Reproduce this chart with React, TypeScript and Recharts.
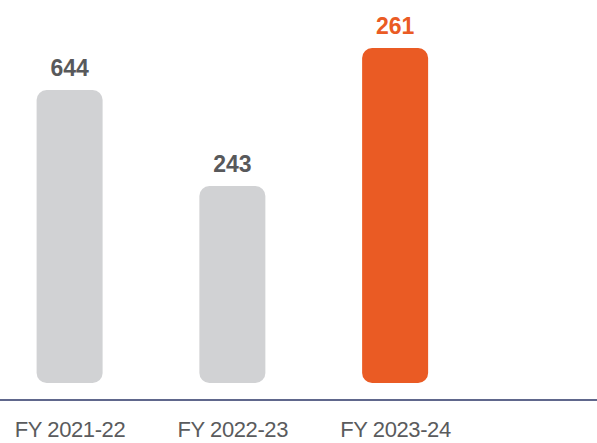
import React from "react";
import { BarChart, Bar, XAxis, YAxis, Cell, LabelList } from "recharts";

const categories = ["FY 2021-22", "FY 2022-23", "FY 2023-24"];
const labelValues = [644, 243, 261];
const barHeights = [293, 197, 335];
const barColors = ["#d1d2d4", "#d1d2d4", "#ea5b24"];
const labelColors = ["#58595b", "#58595b", "#ea5b24"];

const data = categories.map((c, i) => ({
  idx: i,
  category: c,
  height: barHeights[i],
  value: labelValues[i],
}));

const FONT = '"Liberation Sans", Arial, Helvetica, sans-serif';

const renderLabel = (props: any) => {
  const { x, y, width, index } = props;
  return (
    <text
      x={x + width / 2}
      y={y - 14}
      textAnchor="middle"
      fill={labelColors[index]}
      fontFamily={FONT}
      fontWeight="bold"
      fontSize={23}
    >
      {labelValues[index]}
    </text>
  );
};

export default function App() {
  return (
    <div style={{ position: "absolute", left: 0, top: 0, width: 597, height: 443, background: "#fff" }}>
      <BarChart
        width={597}
        height={443}
        data={data}
        margin={{ top: 48, right: 0, bottom: 0, left: 0 }}
      >
        <XAxis
          dataKey="idx"
          type="number"
          domain={[-0.43, 3.238]}
          ticks={[0, 1, 2]}
          tickFormatter={(v: number) => categories[v]}
          height={43}
          tickLine={false}
          tickMargin={15}
          axisLine={{ stroke: "#2b3566", strokeWidth: 1.5 }}
          tick={{ fill: "#5a5b5d", fontSize: 22, fontFamily: FONT, letterSpacing: -0.4 }}
          interval={0}
          allowDataOverflow
        />
        <YAxis hide domain={[-17, 335]} allowDataOverflow />
        <Bar dataKey="height" barSize={66} radius={10} isAnimationActive={false}>
          {data.map((d, i) => (
            <Cell key={d.category} fill={barColors[i]} />
          ))}
          <LabelList dataKey="value" content={renderLabel} />
        </Bar>
      </BarChart>
    </div>
  );
}
